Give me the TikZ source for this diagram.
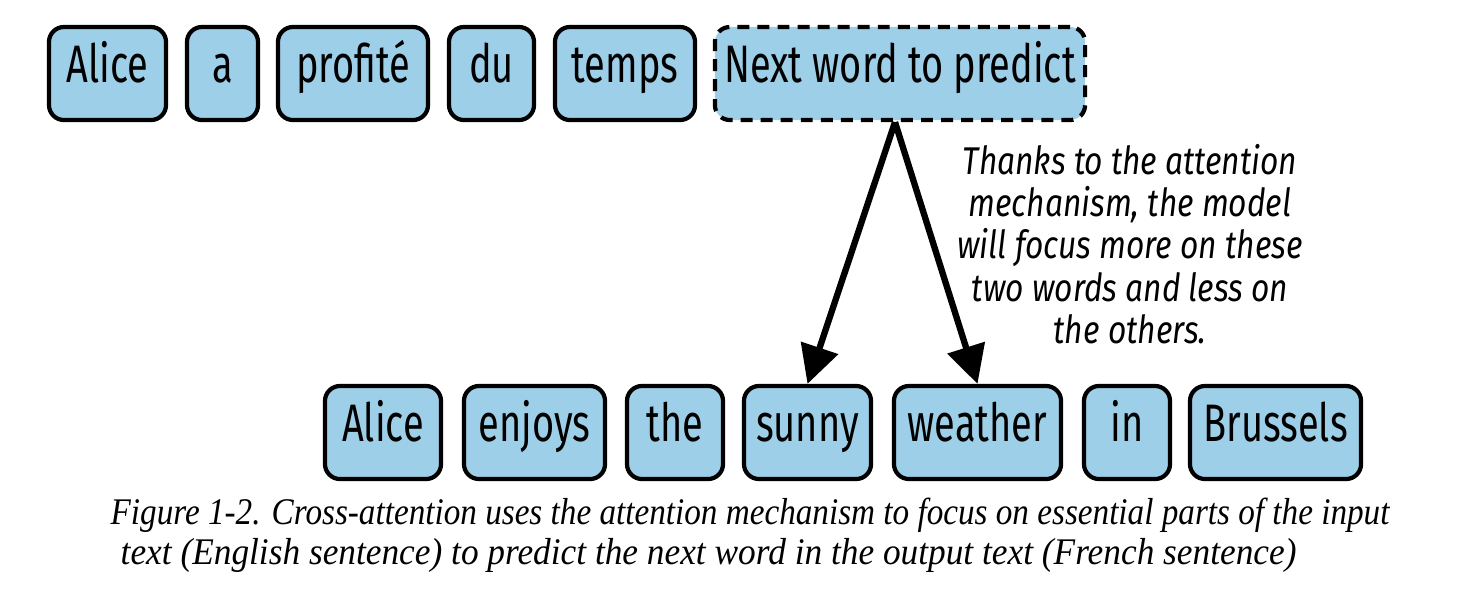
\documentclass[tikz,border=0pt]{standalone}
\usepackage{fontspec}
\usepackage{graphicx}
\setmainfont{Liberation Serif}
\newfontfamily\wordfont[FakeStretch=0.72]{Fira Sans}
\newfontfamily\notefont[FakeStretch=0.82]{Fira Sans}
\usetikzlibrary{arrows.meta}
\definecolor{tokenblue}{RGB}{158,207,232}

\begin{document}
\begin{tikzpicture}[x=0.01cm,y=-0.01cm,
		token/.style={draw=black, line width=1.2pt, fill=tokenblue, rounded corners=0.15cm,
			minimum height=0.93cm, inner sep=0pt, text height=0.72em, text depth=0.2em,
			font=\wordfont\fontsize{15}{17}\selectfont},
		pointer/.style={line width=1.8pt, -{Triangle[length=0.38cm,width=0.38cm]}},
		caption/.style={anchor=west, inner sep=0pt, font=\itshape\fontsize{10.7}{12}\selectfont}]
		\useasboundingbox (0,0) rectangle (1464,590);
		
		% French sentence (top row)
		\node[token, minimum width=1.17cm] (fAlice) at (107.5,73.5) {Alice};
		\node[token, minimum width=0.71cm] (fa) at (222.5,73.5) {a};
		\node[token, minimum width=1.50cm] (fprofite) at (353,73.5) {profité};
		\node[token, minimum width=0.85cm] (fdu) at (491.5,73.5) {du};
		\node[token, minimum width=1.40cm] (ftemps) at (625,73.5) {temps};
		\node[token, dash pattern=on 3.4pt off 2.3pt, minimum width=3.70cm] (next) at (900,73.5) {Next word to predict};
		
		% English sentence (bottom row)
		\node[token, minimum width=1.16cm] (eAlice) at (383,432.5) {Alice};
		\node[token, minimum width=1.41cm] (enjoys) at (534.5,432.5) {enjoys};
		\node[token, minimum width=0.96cm] (the) at (675,432.5) {the};
		\node[token, minimum width=1.27cm] (sunny) at (807.5,432.5) {sunny};
		\node[token, minimum width=1.67cm] (weather) at (977.5,432.5) {weather};
		\node[token, minimum width=0.86cm] (in) at (1127,432.5) {in};
		\node[token, minimum width=1.71cm] (brussels) at (1275.5,432.5) {Brussels};
		
		% Attention arrows
		\coordinate (apex) at ([xshift=-0.05cm]next.south);
		\draw[pointer] (apex) -- (sunny.north);
		\draw[pointer] (apex) -- (weather.north);
		
		% Annotation
		\node[font=\notefont\itshape\fontsize{11}{12}\selectfont, align=center] (note) at (1130,244)
		{Thanks to the attention\\ mechanism, the model\\ will focus more on these\\ two words and less on\\ the others.};
		
		% Caption (squeezed to the widths in the figure)
		\node[caption] (cap1) at (110,515)
		{\resizebox{12.78cm}{\height}{Figure 1-2. Cross-attention uses the attention mechanism to focus on essential parts of the input}};
		\node[caption] (cap2) at (120,555)
		{\resizebox{11.75cm}{\height}{text (English sentence) to predict the next word in the output text (French sentence)}};
		
	\end{tikzpicture}
\end{document}
